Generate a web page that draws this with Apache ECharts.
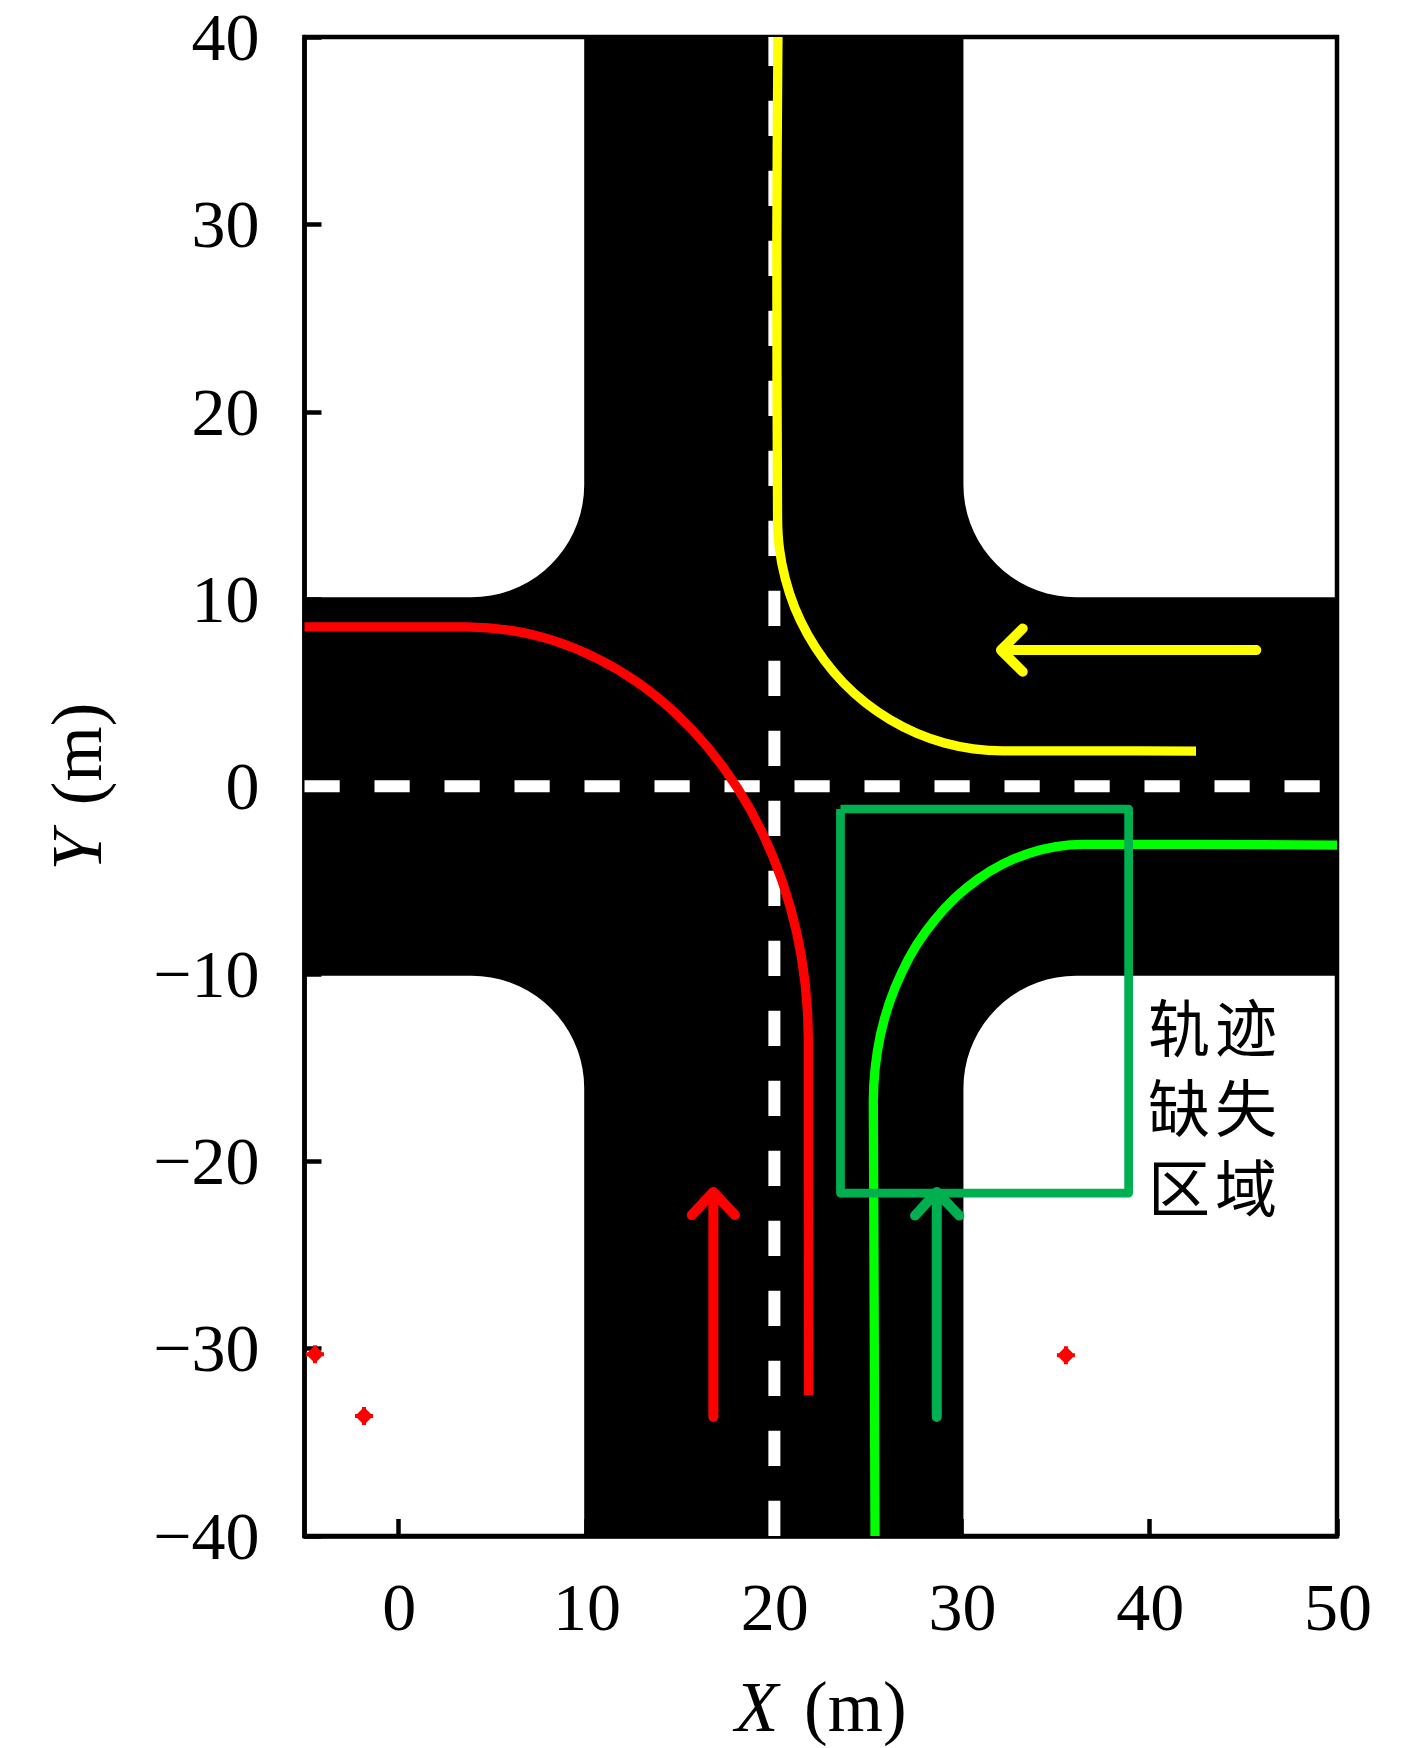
<!DOCTYPE html>
<html><head><meta charset="utf-8">
<style>html,body{margin:0;padding:0;background:#fff}#c{width:1417px;height:1748px}</style>
<script src="https://cdn.jsdelivr.net/npm/echarts@6/dist/echarts.min.js"></script>
</head><body><div id="c"></div>
<script>
const xTicks = [0, 10, 20, 30, 40, 50];
const yTicks = [-40, -30, -20, -10, 0, 10, 20, 30, 40];

const redPath = [[-5,8.52],[3.6,8.52],[5.98,8.33],[8.32,7.77],[10.58,6.84],[12.72,5.57],[14.70,3.97],[16.50,2.07],[18.07,-0.09],[19.40,-2.49],[20.45,-5.07],[21.22,-7.80],[21.68,-10.63],[21.84,-13.5],[21.84,-21],[21.86,-32.48]];
const yellowPath = [[20.22,40],[20.16,29.3],[20.2,14.3],[20.30,12.68],[20.61,11.09],[21.11,9.55],[21.81,8.10],[22.68,6.75],[23.71,5.53],[24.89,4.46],[26.2,3.56],[27.61,2.84],[29.09,2.32],[30.63,2.01],[32.2,1.9],[36.67,1.9],[42.49,1.89]];
const greenPath = [[50,-3.13],[42.53,-3.09],[36.5,-3.09],[35.04,-3.21],[33.60,-3.56],[32.21,-4.13],[30.9,-4.93],[29.68,-5.92],[28.58,-7.11],[27.61,-8.45],[26.8,-9.95],[26.15,-11.55],[25.68,-13.25],[25.40,-15.01],[25.3,-16.8],[25.32,-21.2],[25.39,-40]];

const redArrow = [[16.78,-33.65],[16.78,-21.64],[15.63,-22.87],[16.78,-21.64],[17.93,-22.87]];
const greenArrow = [[28.68,-33.65],[28.68,-21.64],[27.52,-22.9],[28.68,-21.64],[29.88,-22.9]];
const yellowArrow = [[45.7,7.28],[32.1,7.28],[33.26,8.43],[32.1,7.28],[33.26,6.12]];

const missingBox = [[23.55,-1.2],[38.9,-1.2],[38.9,-21.7],[23.55,-21.7],[23.55,-1.2]];
const redDots = [[-4.44,-30.3],[-1.83,-33.6],[35.56,-30.35]];
const laneH = [[-5,0.02],[50,0.02]];
const laneV = [[20.03,-40],[20.03,40]];

const noteChars = ['轨','迹','缺','失','区','域'];
const noteX = [41.58,45.15,41.58,45.15,41.58,45.15];
const noteY = [-12.9,-12.9,-17.17,-17.17,-21.44,-21.44];

// road edges and the quarter-round corner shape (offsets from the corner centre)
const cornerA = [6,5.977,5.909,5.796,5.638,5.438,5.196,4.915,4.596,4.243,3.857,3.441,3,2.536,2.052,1.553,1.042,0.523,0];
const cornerB = [0,0.523,1.042,1.553,2.052,2.536,3,3.441,3.857,4.243,4.596,4.915,5.196,5.438,5.638,5.796,5.909,5.977,6];
const roadL = 9.9, roadR = 30.1, roadT = 10.1, roadB = -10.1, cornerCy = 16.1, cornerL = 3.9, cornerR = 36.1;

const road = [[roadL,40],[roadR,40]];
cornerA.forEach((a,i)=>road.push([cornerR-a, cornerCy-cornerB[i]]));
road.push([50,roadT],[50,roadB]);
cornerA.slice().reverse().forEach((a,i)=>road.push([cornerR-a, -cornerCy+cornerB[cornerB.length-1-i]]));
road.push([roadR,-40],[roadL,-40]);
cornerA.forEach((a,i)=>road.push([cornerL+a, -cornerCy+cornerB[i]]));
road.push([-5,roadB],[-5,roadT]);
cornerA.slice().reverse().forEach((a,i)=>road.push([cornerL+a, cornerCy-cornerB[cornerB.length-1-i]]));

const SERIF = '"Liberation Serif","DejaVu Serif",serif';
const dot = 'path://M-9,-2 L-7,-2 L-2,-7 L-2,-9 L2,-9 L2,-7 L7,-2 L9,-2 L9,2 L7,2 L2,7 L2,9 L-2,9 L-2,7 L-7,2 L-9,2 Z';
const line = (data,color,width,extra)=>Object.assign({type:'line',data,showSymbol:false,symbol:'none',silent:true,
  lineStyle:{color,width,cap:'butt',join:'round'}},extra||{});
const arrow = (data,color)=>({type:'line',data,showSymbol:false,symbol:'none',silent:true,z:6,
  lineStyle:{color,width:10,cap:'round',join:'round'}});

const nameStyle = {fontFamily:SERIF,fontSize:71,color:'#000',rich:{i:{fontFamily:SERIF,fontStyle:'italic',fontSize:71,color:'#000',padding:[0,8,0,0]}}};
const chart = echarts.init(document.getElementById('c'),null,{renderer:'canvas'});
chart.setOption({
  animation:false,
  backgroundColor:'#fff',
  grid:{left:304.5,top:37,width:1032.5,height:1499,show:true,backgroundColor:'#fff',borderColor:'#000',borderWidth:4.5,containLabel:false,outerBoundsMode:'none'},
  xAxis:{type:'value',min:-5,max:50,name:'{i|X} (m)',nameLocation:'middle',nameGap:141,nameTextStyle:nameStyle,
    axisLine:{show:true,onZero:false,lineStyle:{color:'#000',width:4.5}},
    axisTick:{show:true,inside:true,length:17,customValues:xTicks,lineStyle:{color:'#000',width:4.5}},
    axisLabel:{customValues:xTicks,margin:42,padding:[0,0,0,2],fontFamily:SERIF,fontSize:68,color:'#000',
      formatter:v=>String(v).replace('-','−')},
    splitLine:{show:false}},
  yAxis:{type:'value',min:-40,max:40,interval:10,name:'{i|Y} (m)',nameLocation:'middle',nameGap:187,nameTextStyle:nameStyle,
    axisLine:{show:true,onZero:false,lineStyle:{color:'#000',width:4.5}},
    axisTick:{show:true,inside:true,length:17,customValues:yTicks,lineStyle:{color:'#000',width:4.5}},
    axisLabel:{customValues:yTicks,margin:45,fontFamily:SERIF,fontSize:68,color:'#000',
      rich:{t:{fontFamily:SERIF,fontSize:68,color:'#000',padding:[10,0,0,0]}},
      formatter:v=>'{t|'+String(v).replace('-','−')+'}'},
    splitLine:{show:false}},
  series:[
    {type:'custom',coordinateSystem:'cartesian2d',silent:true,clip:true,z:1,data:[[20,0]],
     renderItem:(p,api)=>({type:'polygon',shape:{points:road.map(q=>api.coord(q))},style:{fill:'#000',stroke:null}})},
    line(laneH,'#fff',12,{z:2,lineStyle:{color:'#fff',width:12,type:[35.2,34.8],cap:'butt'}}),
    line(laneV,'#fff',12,{z:2,lineStyle:{color:'#fff',width:12,type:[35.15,34.85],cap:'butt'}}),
    line(redPath,'#ff0000',9.3,{z:3,smooth:0.25}),
    line(yellowPath,'#ffff00',9.3,{z:3,smooth:0.25}),
    line(greenPath,'#00ff00',9.3,{z:3,smooth:0.25}),
    line(missingBox,'#00b050',8.7,{z:5}),
    arrow(redArrow,'#ff0000'),
    arrow(greenArrow,'#00b050'),
    arrow(yellowArrow,'#ffff00'),
    {type:'scatter',data:redDots,symbol:dot,symbolSize:18,itemStyle:{color:'#ff0000',opacity:1},silent:true,z:7},
    {type:'custom',coordinateSystem:'cartesian2d',silent:true,clip:false,z:8,
     data:noteChars.map((c,i)=>[noteX[i],noteY[i]]),
     renderItem:(p,api)=>{
       const q=api.coord([api.value(0),api.value(1)]);
       return {type:'text',x:q[0],y:q[1],style:{text:noteChars[p.dataIndex],fill:'#000',
         font:'62px "Noto Sans CJK SC"',align:'center',verticalAlign:'middle'}};
     }}
  ]
});
</script></body></html>
